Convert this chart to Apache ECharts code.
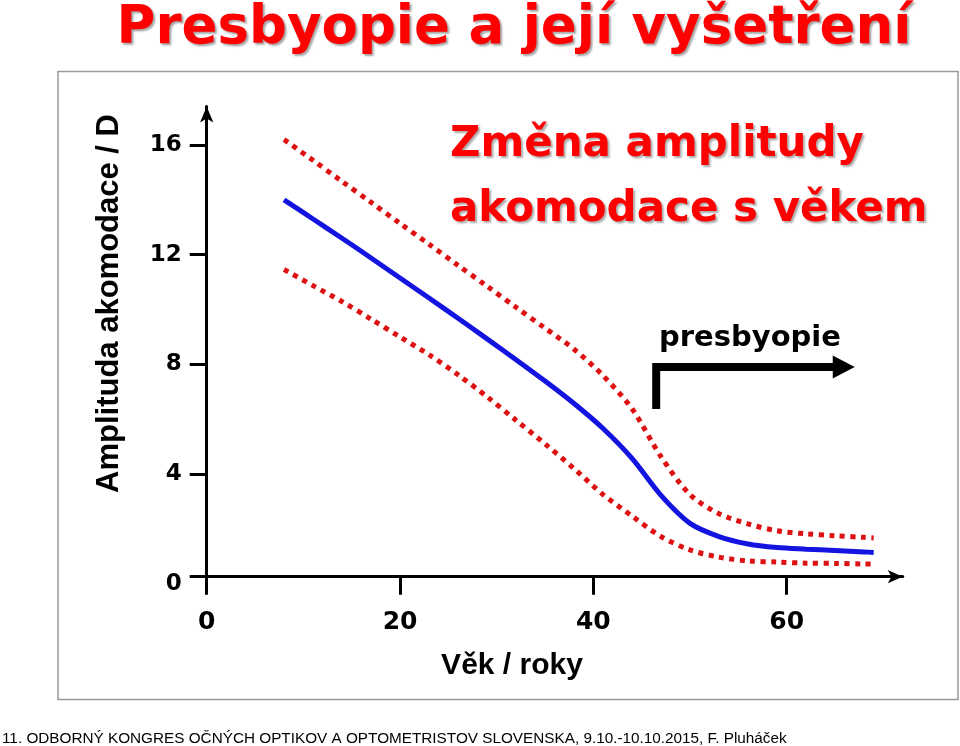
<!DOCTYPE html>
<html lang="cs">
<head>
    <meta charset="UTF-8">
    <title>Presbyopie a její vyšetření</title>
    <script src="https://cdn.jsdelivr.net/npm/echarts@6.0.0/dist/echarts.min.js"></script>
    <style>
        html, body {
            margin: 0;
            padding: 0;
            background: #fff;
        }

        #chart {
            width: 960px;
            height: 746px;
        }
    </style>
</head>
<body>
<div id="chart"></div>
<script>
    // věk v letech
    var ages = [8, 11, 14, 17, 20, 23, 26, 29, 32, 35, 38, 41, 44, 47, 50, 53, 56, 59, 62, 65, 68, 69]
    // střední amplituda akomodace (D)
    var meanAmp = [14.0, 13.3, 12.6, 11.88, 11.15, 10.42, 9.68, 8.93, 8.17, 7.39, 6.57, 5.66, 4.57, 3.22, 2.2, 1.72, 1.45, 1.32, 1.26, 1.21, 1.16, 1.14]
    // horní a dolní mez
    var upperAmp = [16.2, 15.44, 14.67, 13.91, 13.14, 12.38, 11.61, 10.85, 10.08, 9.32, 8.55, 7.59, 6.38, 4.63, 3.25, 2.55, 2.18, 1.93, 1.82, 1.75, 1.69, 1.67]
    var lowerAmp = [11.46, 10.87, 10.29, 9.65, 9.0, 8.35, 7.62, 6.82, 5.96, 5.1, 4.2, 3.25, 2.47, 1.72, 1.23, 0.97, 0.83, 0.79, 0.75, 0.74, 0.72, 0.72]

    // šipka "presbyopie"
    var arrowX = [46.5, 46.5, 65.9]
    var arrowY = [6.37, 7.9, 7.9]

    var xTicks = [0, 20, 40, 60]
    // osa x je nakreslena kousek nad nulou a přečnívá doleva
    var xAxisCrossing = 0.255
    var yTicks = [xAxisCrossing, 4, 8, 12, 16]
    var yLabels = [0, 4, 8, 12, 16]

    var boldFont = 'DejaVu Sans'

    function pairs (xs, ys) {
        return xs.map(function (x, i) {
            return [x, ys[i]]
        })
    }

    var arrowData = pairs(arrowX, arrowY).map(function (p, i) {
        if (i === arrowX.length - 1) {
            return {value: p, symbol: 'triangle', symbolSize: [23, 22], symbolRotate: -90}
        }
        return {value: p, symbol: 'none'}
    })

    var dotted = {color: '#dd1111', width: 5, type: [5, 5.5], cap: 'butt'}

    var chart = echarts.init(document.getElementById('chart'))
    var option = {
        animation: false,
        backgroundColor: '#fff',
        title: [{
            text: 'Presbyopie a její vyšetření',
            left: 514,
            top: 3,
            textAlign: 'center',
            padding: 0,
            textStyle: {
                fontFamily: boldFont,
                fontWeight: 'bold',
                fontSize: 53,
                lineHeight: 53,
                color: '#ff0000',
                textShadowColor: 'rgba(90,90,90,0.55)',
                textShadowOffsetX: 2,
                textShadowOffsetY: 2,
                textShadowBlur: 2
            }
        }, {
            text: 'Změna amplitudy\nakomodace s věkem',
            left: 450,
            top: 113,
            padding: 0,
            textStyle: {
                fontFamily: boldFont,
                fontWeight: 'bold',
                fontSize: 42,
                lineHeight: 65,
                color: '#ff0000',
                textShadowColor: 'rgba(90,90,90,0.5)',
                textShadowOffsetX: 2,
                textShadowOffsetY: 2,
                textShadowBlur: 2
            }
        }, {
            text: 'presbyopie',
            left: 659,
            top: 324,
            padding: 0,
            textStyle: {
                fontFamily: boldFont,
                fontWeight: 'bold',
                fontSize: 29,
                lineHeight: 29,
                color: '#000'
            }
        }, {
            text: 'Věk / roky',
            left: 512,
            top: 651,
            textAlign: 'center',
            padding: 0,
            textStyle: {
                fontFamily: 'Liberation Sans',
                fontWeight: 'bold',
                fontSize: 30,
                lineHeight: 30,
                color: '#000'
            }
        }, {
            text: '11. ODBORNÝ KONGRES OČNÝCH OPTIKOV A OPTOMETRISTOV SLOVENSKA, 9.10.-10.10.2015, F. Pluháček',
            left: 2,
            top: 731,
            padding: 0,
            textStyle: {
                fontFamily: 'Liberation Sans',
                fontWeight: 'normal',
                fontSize: 15.3,
                lineHeight: 15,
                color: '#000'
            }
        }],
        graphic: [{
            type: 'rect',
            z: -10,
            shape: {x: 58, y: 71.5, width: 900, height: 628},
            style: {fill: 'none', stroke: '#9a9a9a', lineWidth: 1.5}
        }, {
            type: 'text',
            x: 109,
            y: 303.5,
            rotation: Math.PI / 2,
            style: {
                text: 'Amplituda akomodace / D',
                font: 'bold 31px "Liberation Sans"',
                fill: '#000',
                textAlign: 'center',
                textVerticalAlign: 'middle'
            }
        }],
        grid: {
            left: 206.7,
            right: 57.3,
            top: 106.6,
            bottom: 162.3,
            outerBoundsMode: 'none'
        },
        xAxis: {
            type: 'value',
            min: 0,
            max: 72,
            offset: -7,
            splitLine: {show: false},
            axisLine: {
                show: true,
                symbol: ['none', 'arrow'],
                symbolSize: [10, 15],
                lineStyle: {color: '#000', width: 3}
            },
            axisTick: {
                show: true,
                length: 18,
                customValues: xTicks,
                lineStyle: {color: '#000', width: 3}
            },
            axisLabel: {
                customValues: xTicks,
                margin: 33,
                color: '#000',
                fontFamily: boldFont,
                fontWeight: 'bold',
                fontSize: 25
            }
        },
        yAxis: {
            type: 'value',
            min: 0,
            max: 17.4,
            splitLine: {show: false},
            axisLine: {
                show: true,
                symbol: ['none', 'arrow'],
                symbolSize: [10, 16],
                lineStyle: {color: '#000', width: 3}
            },
            axisTick: {
                show: true,
                length: 17,
                customValues: yTicks,
                lineStyle: {color: '#000', width: 3}
            },
            axisLabel: {
                customValues: yLabels,
                margin: 25,
                padding: [7, 0, 0, 0],
                color: '#000',
                fontFamily: boldFont,
                fontWeight: 'bold',
                fontSize: 23
            }
        },
        series: [{
            name: 'horní mez',
            type: 'line',
            silent: true,
            smooth: 0.3,
            showSymbol: false,
            data: pairs(ages, upperAmp),
            lineStyle: dotted
        }, {
            name: 'dolní mez',
            type: 'line',
            silent: true,
            smooth: 0.3,
            showSymbol: false,
            data: pairs(ages, lowerAmp),
            lineStyle: dotted
        }, {
            name: 'amplituda akomodace',
            type: 'line',
            silent: true,
            smooth: 0.3,
            showSymbol: false,
            data: pairs(ages, meanAmp),
            lineStyle: {color: '#1414e0', width: 5}
        }, {
            name: 'presbyopie',
            type: 'line',
            silent: true,
            showSymbol: true,
            showAllSymbol: true,
            data: arrowData,
            itemStyle: {color: '#000'},
            lineStyle: {color: '#000', width: 8, cap: 'butt', join: 'miter'}
        }]
    }
    chart.setOption(option)
</script>
</body>
</html>
